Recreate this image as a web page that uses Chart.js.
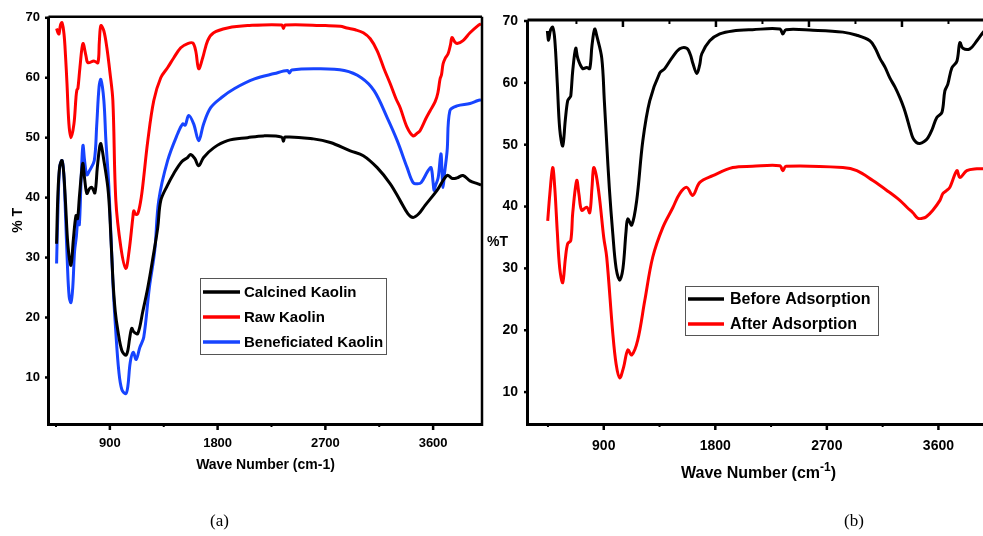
<!DOCTYPE html>
<html>
<head>
<meta charset="utf-8">
<script src="https://cdn.jsdelivr.net/npm/chart.js@4.4.1/dist/chart.umd.min.js"></script>
<style>
  html, body { margin: 0; padding: 0; background: #fff; }
  body { width: 983px; height: 536px; overflow: hidden; position: relative; }
  canvas { position: absolute; top: 0; }
  #ftirA { left: 0; }
  #ftirB { left: 490px; }
  .caption { position: absolute; top: 511px; font-family: "Liberation Serif", "Times New Roman", serif; font-size: 17px; color: #000; }
  #yTitleB { position: absolute; left: 487px; top: 233px; font-family: "Liberation Sans", Arial, sans-serif; font-weight: bold; font-size: 14px; color: #000; }
</style>
</head>
<body>
<canvas id="ftirA" width="490" height="536"></canvas>
<canvas id="ftirB" width="505" height="536"></canvas>
<div class="caption" style="left:210px">(a)</div>
<div class="caption" style="left:844px">(b)</div>
<div id="yTitleB">%T</div>
<script>
// ---- FTIR spectra: [wavenumber (cm-1), transmittance (%T)] ----

// (a) kaolin samples
const calcinedKaolin = [
  [455,32.3],[465,40],[480,45],[500,46.2],[515,44],[530,39],[550,32],[575,28.7],[595,33],
  [617,37],[630,36.5],[645,40],[665,44.5],[675,45.7],[690,43],[708,40.7],[730,41.5],[750,41.7],
  [775,40.8],[795,45],[815,48.5],[825,49],[850,46.2],[883,41.7],[900,37],[925,26.5],[945,21],
  [967,17.8],[1000,14.5],[1033,13.7],[1050,14.5],[1065,16.5],[1083,18.2],[1100,17.6],[1133,17.3],
  [1175,21],[1217,25],[1260,30],[1300,35],[1325,39.5],[1380,42],[1433,44],[1500,46],[1550,46.7],
  [1575,47.2],[1610,46.5],[1642,45.3],[1683,46.7],[1767,48.3],[1883,49.5],[2050,50],[2183,50.3],
  [2335,50.1],[2350,49.4],[2365,50.1],[2600,49.8],[2742,49.2],[2908,47.8],[3017,47],[3133,45],
  [3242,42.3],[3325,39.5],[3390,37.3],[3433,36.7],[3480,37.3],[3533,38.7],[3633,41.2],[3717,43.7],
  [3760,43.2],[3800,43.3],[3850,43.7],[3908,42.8],[3975,42.3],[4000,42.1]
];
const rawKaolin = [
  [455,68.2],[467,67.5],[475,67.3],[488,68.8],[500,69.2],[517,67.3],[530,63.5],[542,59],[558,52.3],
  [575,50],[600,52.3],[617,56.7],[625,58],[633,58.2],[650,61.7],[675,65.7],[700,63.7],[717,62.5],
  [767,62.8],[800,62.5],[812,66],[825,68.7],[850,67.8],[875,65],[900,61],[925,56.2],[950,39.5],
  [992,31.7],[1033,28.2],[1060,31],[1092,36.7],[1100,37.8],[1115,37.2],[1133,37.3],[1158,39.5],
  [1175,42],[1217,49.5],[1267,56.2],[1325,60],[1383,61.7],[1433,63.3],[1492,65],[1550,65.7],
  [1592,65.8],[1617,64.5],[1642,61.5],[1675,63.3],[1717,66.2],[1767,67.5],[1883,68.3],[2050,68.7],
  [2335,68.8],[2350,68.2],[2365,68.8],[2700,68.7],[2825,68.6],[2880,68.3],[2950,68],[3017,67.5],
  [3075,66.5],[3133,64.5],[3190,61.5],[3242,59],[3290,56.5],[3325,55],[3383,51.7],[3433,50.3],
  [3470,50.8],[3492,51.2],[3540,53.2],[3575,54.5],[3617,56],[3640,57.5],[3658,59.8],[3670,60.5],
  [3683,62.3],[3700,63.2],[3725,64],[3745,65.5],[3758,66.7],[3780,66],[3800,65.7],[3850,66.2],
  [3908,67.5],[3975,68.7],[4000,69]
];
const beneficiatedKaolin = [
  [455,29],[465,37],[480,45],[500,46.2],[515,44],[530,37],[545,29],[560,23.5],[575,22.5],[590,25],
  [605,31],[620,33.5],[635,37],[645,35.5],[660,43],[675,48.7],[690,46],[708,43.8],[730,44.5],
  [770,46.2],[790,52],[810,58.5],[825,59.7],[850,56.2],[867,49.5],[892,41.7],[925,26],[950,17.5],
  [975,11],[1000,8],[1033,7.3],[1050,8.5],[1070,12.5],[1095,14.2],[1120,13],[1150,15],[1183,16.7],
  [1230,25],[1275,31.2],[1308,39.5],[1383,46.2],[1467,50.7],[1508,52.3],[1530,52.1],[1558,53.7],
  [1600,52.3],[1642,49.5],[1683,52.3],[1742,55],[1833,56.7],[1942,58.2],[2108,59.8],[2275,60.7],
  [2383,61.2],[2400,60.8],[2420,61.3],[2633,61.5],[2858,61.2],[3000,60],[3108,57.8],[3217,53.3],
  [3300,49.5],[3383,45],[3433,42.5],[3470,42.3],[3500,42.5],[3558,44.5],[3583,45],[3600,42.5],
  [3608,41.2],[3620,42],[3642,43.3],[3665,47.3],[3675,44],[3683,41.7],[3695,44],[3717,47.8],
  [3740,54.5],[3800,55.3],[3908,55.7],[3975,56.2],[4000,56.3]
];

// (b) before / after adsorption
const beforeAdsorption = [
  [445,68.4],[455,66.9],[470,68.5],[488,69],[505,67],[525,60],[545,52.5],[569,49.8],[590,54],
  [609,57.1],[625,57.6],[634,57.9],[650,62],[674,65.6],[690,64],[730,62.3],[763,62.5],[787,62.3],
  [805,66],[827,68.7],[845,67.5],[884,64],[905,57],[924,50.2],[945,43],[973,35.6],[1000,30],
  [1029,28.1],[1055,30],[1080,36],[1094,38],[1126,37],[1166,41],[1215,50.6],[1271,57.1],
  [1352,61.6],[1392,62.3],[1449,64],[1513,65.5],[1570,65.6],[1600,64.5],[1618,63.2],[1651,61.5],
  [1675,63],[1691,64.7],[1755,66.8],[1836,67.9],[1941,68.4],[2100,68.6],[2320,68.7],[2345,67.9],
  [2370,68.6],[2587,68.5],[2829,68.2],[2942,67.7],[3047,66.8],[3090,65.6],[3127,64],[3170,62.5],
  [3208,60.8],[3250,59.3],[3289,57.6],[3320,56],[3345,54.4],[3370,52.6],[3394,51.1],[3420,50.4],
  [3450,50.2],[3485,50.5],[3515,51.1],[3550,52.5],[3587,54.4],[3628,55.2],[3652,58.7],[3676,59.8],
  [3708,62.4],[3749,63.5],[3773,66.5],[3797,65.6],[3854,65.5],[3910,66.8],[3958,68.1],[4000,69]
];
const afterAdsorption = [
  [448,37.7],[465,42],[488,46.3],[505,43],[525,36],[545,30],[569,27.7],[590,31.5],[609,34],
  [634,34.5],[650,39],[682,44.2],[700,42],[722,39.4],[763,39.9],[787,39],[805,43],[819,46.3],
  [840,45],[868,41],[900,35],[924,31.8],[973,19.5],[1000,14.5],[1029,12.3],[1060,14],[1094,16.8],
  [1126,16],[1174,18.4],[1231,24.8],[1295,31.8],[1376,36.6],[1457,39.8],[1513,42.1],[1570,43.1],
  [1618,41.8],[1675,43.9],[1780,45],[1941,46.3],[2100,46.5],[2320,46.6],[2345,45.8],[2370,46.5],
  [2829,46.3],[2942,45.8],[3071,44.2],[3184,42.6],[3289,41],[3350,39.8],[3394,39],[3434,38.1],
  [3470,38.1],[3500,38.3],[3555,39.4],[3612,41],[3636,42.1],[3660,42.5],[3692,43.1],[3749,45.8],
  [3773,44.7],[3829,45.8],[3910,46.1],[3958,46.1],[4000,46.2]
];

// ---- tick values ----
const xTickLabels = [900, 1800, 2700, 3600];
const xMinorTicks = [450, 1350, 2250, 3150];
const yTickLabels = [10, 20, 30, 40, 50, 60, 70];
const yMinorTicks = [5, 15, 25, 35, 45, 55, 65];
const topMajorTicks = [0, 1, 2, 3];
const topMinorTicks = [-0.5, 0.5, 1.5, 2.5, 3.5];

const FONT = '"Liberation Sans", Arial, sans-serif';
const toXY = pts => pts.map(p => ({ x: p[0], y: p[1] }));

function series(label, pts, color) {
  return {
    label, data: toXY(pts), borderColor: color, backgroundColor: color,
    borderWidth: 3, pointRadius: 0, fill: false, tension: 0.35
  };
}

// frame lines and tick marks drawn from the chart's scales
const axisFrame = {
  id: 'axisFrame',
  afterDraw(chart, args, o) {
    const { ctx, chartArea: a, scales } = chart;
    const sx = scales.x, sy = scales.y;
    ctx.save();
    ctx.strokeStyle = '#000';
    const seg = (x1, y1, x2, y2, w) => {
      ctx.lineWidth = w; ctx.beginPath(); ctx.moveTo(x1, y1); ctx.lineTo(x2, y2); ctx.stroke();
    };
    xTickLabels.forEach(v => { const p = sx.getPixelForValue(v); seg(p, a.bottom, p, a.bottom + 7, 2.5); });
    xMinorTicks.forEach(v => { const p = sx.getPixelForValue(v); seg(p, a.bottom, p, a.bottom + 4, 2); });
    yTickLabels.forEach(v => { const p = sy.getPixelForValue(v); seg(a.left, p, a.left - 5, p, 2.5); });
    yMinorTicks.forEach(v => {
      const p = sy.getPixelForValue(v);
      if (p >= a.top && p <= a.bottom) seg(a.left, p, a.left - 3, p, 2);
    });
    if (scales.xTop) {
      const st = scales.xTop;
      topMajorTicks.forEach(v => { const p = st.getPixelForValue(v); seg(p, a.top, p, a.top + 6, 2.5); });
      topMinorTicks.forEach(v => { const p = st.getPixelForValue(v); seg(p, a.top, p, a.top + 3, 2); });
    }
    seg(a.left - 1.5, a.bottom + 1.5, a.right + 1, a.bottom + 1.5, 3);
    seg(a.left - 1.5, a.top - 1, a.left - 1.5, a.bottom + 3, 3);
    seg(a.left - 1.5, a.top - 1, a.right + 1, a.top - 1, o.topWidth);
    seg(a.right + 1, a.top - 1, a.right + 1, a.bottom + 3, o.rightWidth);
    ctx.restore();
  }
};

// boxed legend placed inside the plot
const boxLegend = {
  id: 'boxLegend',
  afterDatasetsDraw(chart, args, o) {
    const ctx = chart.ctx;
    ctx.save();
    ctx.fillStyle = '#fff';
    ctx.fillRect(o.x, o.y, o.w, o.h);
    ctx.strokeStyle = '#555';
    ctx.lineWidth = 1;
    ctx.strokeRect(o.x + 0.5, o.y + 0.5, o.w, o.h);
    ctx.font = 'bold ' + o.size + 'px ' + FONT;
    ctx.textBaseline = 'middle';
    chart.data.datasets.forEach((ds, i) => {
      const yy = o.y + o.first + i * o.gap;
      ctx.strokeStyle = ds.borderColor;
      ctx.lineWidth = 3.5;
      ctx.beginPath();
      ctx.moveTo(o.x + 3, yy);
      ctx.lineTo(o.x + 3 + o.lineLen, yy);
      ctx.stroke();
      ctx.fillStyle = '#000';
      ctx.fillText(ds.label, o.x + o.textX, yy + 1);
    });
    ctx.restore();
  }
};

// x-axis title with a superscript exponent
const supTitle = {
  id: 'supTitle',
  afterDraw(chart, args, o) {
    if (!o.main) return;
    const ctx = chart.ctx;
    ctx.save();
    ctx.fillStyle = '#000';
    ctx.textBaseline = 'alphabetic';
    const big = 'bold ' + o.size + 'px ' + FONT, small = 'bold ' + o.supSize + 'px ' + FONT;
    ctx.font = big; const w1 = ctx.measureText(o.main).width; const w3 = ctx.measureText(o.tail).width;
    ctx.font = small; const w2 = ctx.measureText(o.sup).width;
    const a = chart.chartArea;
    let x = (a.left + a.right) / 2 - (w1 + w2 + w3) / 2 + o.shift;
    ctx.font = big; ctx.fillText(o.main, x, o.baseline); x += w1;
    ctx.font = small; ctx.fillText(o.sup, x, o.baseline - o.raise); x += w2;
    ctx.font = big; ctx.fillText(o.tail, x, o.baseline);
    ctx.restore();
  }
};

function fixedTicks(values) {
  return s => { s.ticks = values.map(v => ({ value: v })); };
}
const plainLabel = v => String(v);

Chart.defaults.font.family = FONT;
Chart.defaults.color = '#000';

// ---- panel (a) ----
new Chart(document.getElementById('ftirA'), {
  type: 'line',
  data: {
    datasets: [
      series('Calcined Kaolin', calcinedKaolin, '#000000'),
      series('Raw Kaolin', rawKaolin, '#ff0000'),
      series('Beneficiated Kaolin', beneficiatedKaolin, '#1744ff')
    ]
  },
  options: {
    responsive: false, animation: false, devicePixelRatio: 1,
    layout: { padding: { top: 16, right: 9, left: 0, bottom: 0 } },
    plugins: {
      legend: { display: false }, tooltip: { enabled: false },
      axisFrame: { topWidth: 2.5, rightWidth: 2.5 },
      boxLegend: { x: 200, y: 278, w: 186, h: 76, first: 14, gap: 25, lineLen: 37, textX: 44, size: 15 }
    },
    scales: {
      x: {
        type: 'linear', min: 400, max: 4000,
        afterBuildTicks: fixedTicks(xTickLabels),
        afterFit: s => { s.height = 113; },
        grid: { display: false, drawTicks: false }, border: { display: false },
        ticks: { padding: 13, autoSkip: false, maxRotation: 0, callback: plainLabel, font: { size: 13, weight: 'bold' } },
        title: { display: true, text: 'Wave Number (cm-1)', font: { size: 14, weight: 'bold' }, padding: { top: 0, bottom: 62 } }
      },
      y: {
        min: 2.4, max: 70,
        afterBuildTicks: fixedTicks(yTickLabels),
        afterFit: s => { s.width = 50; },
        grid: { display: false, drawTicks: false }, border: { display: false },
        ticks: { padding: 10, callback: plainLabel, font: { size: 13, weight: 'bold' } },
        title: { display: true, text: '% T', font: { size: 14, weight: 'bold' }, padding: { top: 10, bottom: 0 } }
      }
    }
  },
  plugins: [axisFrame, boxLegend]
});

// ---- panel (b) ----
new Chart(document.getElementById('ftirB'), {
  type: 'line',
  data: {
    datasets: [
      series('Before Adsorption', beforeAdsorption, '#000000'),
      series('After Adsorption', afterAdsorption, '#ff0000')
    ]
  },
  options: {
    responsive: false, animation: false, devicePixelRatio: 1,
    layout: { padding: { top: 21, right: 7, left: 0, bottom: 0 } },
    plugins: {
      legend: { display: false }, tooltip: { enabled: false },
      axisFrame: { topWidth: 3, rightWidth: 3 },
      boxLegend: { x: 195, y: 286, w: 193, h: 49, first: 13, gap: 25, lineLen: 36, textX: 45, size: 16 },
      supTitle: { main: 'Wave Number (cm', sup: '-1', tail: ')', size: 16, supSize: 12, baseline: 478, raise: 7, shift: 0 }
    },
    scales: {
      x: {
        type: 'linear', min: 297, max: 4000,
        afterBuildTicks: fixedTicks(xTickLabels),
        afterFit: s => { s.height = 113; },
        grid: { display: false, drawTicks: false }, border: { display: false },
        ticks: { padding: 15, autoSkip: false, maxRotation: 0, callback: plainLabel, font: { size: 14, weight: 'bold' } }
      },
      xTop: {
        type: 'linear', position: 'top', axis: 'x', min: -1.01, max: 3.925,
        afterFit: s => { s.height = 0; },
        grid: { display: false, drawTicks: false }, border: { display: false },
        ticks: { display: false }
      },
      y: {
        min: 5, max: 70,
        afterBuildTicks: fixedTicks(yTickLabels),
        afterFit: s => { s.width = 39; },
        grid: { display: false, drawTicks: false }, border: { display: false },
        ticks: { padding: 11, callback: plainLabel, font: { size: 14, weight: 'bold' } }
      }
    }
  },
  plugins: [axisFrame, boxLegend, supTitle]
});
</script>
</body>
</html>
